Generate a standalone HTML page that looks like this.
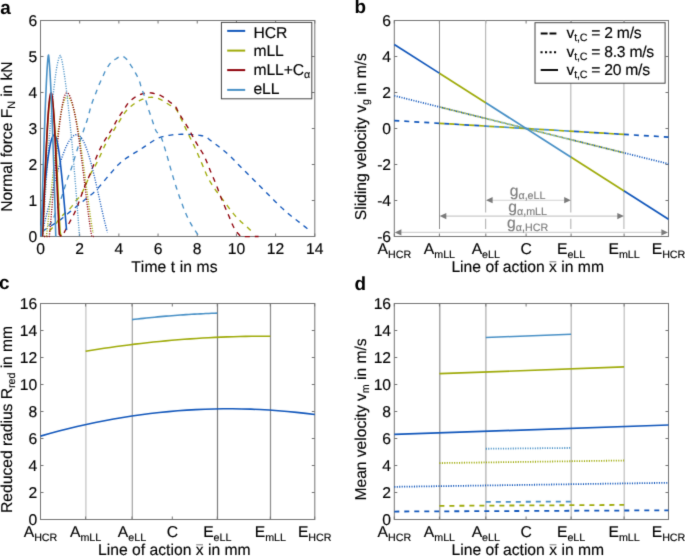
<!DOCTYPE html>
<html><head><meta charset="utf-8"><style>
html,body{margin:0;padding:0;background:#fff;overflow:hidden;}
svg{display:block;}
text{font-family:"Liberation Sans", sans-serif;font-size:15.7px;fill:#000;stroke:#000;stroke-width:0.15px;text-rendering:geometricPrecision;font-kerning:none;}
.g{stroke:#7c7c7c;}
.sub{font-size:10.7px;}
.lab{letter-spacing:0px;}
.g{fill:#7c7c7c;}
</style></head><body>
<svg width="685" height="556" viewBox="0 0 685 556"><defs><filter id="bl" x="0" y="0" width="685" height="556" filterUnits="userSpaceOnUse" color-interpolation-filters="sRGB"><feConvolveMatrix order="3" kernelMatrix="1 7 1 7 49 7 1 7 1" divisor="81" edgeMode="duplicate"/></filter></defs><rect width="685" height="556" fill="#fff"/><g filter="url(#bl)">
<text x="0.2" y="13.8" font-weight="bold" style="font-size:18.9px;stroke-width:0">a</text>
<text x="354.6" y="13.3" font-weight="bold" style="font-size:18.9px;stroke-width:0">b</text>
<text x="-1.1" y="289.2" font-weight="bold" style="font-size:18.9px;stroke-width:0">c</text>
<text x="354.6" y="289.8" font-weight="bold" style="font-size:18.9px;stroke-width:0">d</text>
<rect x="40.5" y="20.5" width="274.3" height="216.0" fill="none" stroke="#747474" stroke-width="1"/><path d="M40.50 236.5v-3.0M40.50 20.5v3.0M79.69 236.5v-3.0M79.69 20.5v3.0M118.87 236.5v-3.0M118.87 20.5v3.0M158.06 236.5v-3.0M158.06 20.5v3.0M197.24 236.5v-3.0M197.24 20.5v3.0M236.43 236.5v-3.0M236.43 20.5v3.0M275.61 236.5v-3.0M275.61 20.5v3.0M314.80 236.5v-3.0M314.80 20.5v3.0M40.5 236.50h3.0M314.8 236.50h-3.0M40.5 200.50h3.0M314.8 200.50h-3.0M40.5 164.50h3.0M314.8 164.50h-3.0M40.5 128.50h3.0M314.8 128.50h-3.0M40.5 92.50h3.0M314.8 92.50h-3.0M40.5 56.50h3.0M314.8 56.50h-3.0M40.5 20.50h3.0M314.8 20.50h-3.0" stroke="#747474" stroke-width="1" fill="none"/>
<text x="37.3" y="242.4" text-anchor="end">0</text><text x="37.3" y="206.4" text-anchor="end">1</text><text x="37.3" y="170.4" text-anchor="end">2</text><text x="37.3" y="134.4" text-anchor="end">3</text><text x="37.3" y="98.4" text-anchor="end">4</text><text x="37.3" y="62.4" text-anchor="end">5</text><text x="37.3" y="26.4" text-anchor="end">6</text>
<text x="40.5" y="254.1" text-anchor="middle">0</text>
<text x="79.7" y="254.1" text-anchor="middle">2</text>
<text x="118.9" y="254.1" text-anchor="middle">4</text>
<text x="158.1" y="254.1" text-anchor="middle">6</text>
<text x="197.2" y="254.1" text-anchor="middle">8</text>
<text x="236.4" y="254.1" text-anchor="middle">10</text>
<text x="275.6" y="254.1" text-anchor="middle">12</text>
<text x="314.8" y="254.1" text-anchor="middle">14</text>
<text class="lab" style="letter-spacing:0.08px" x="174.4" y="271.8" text-anchor="middle">Time t in ms</text>
<text class="lab" style="letter-spacing:-0.05px" transform="translate(11.9,136.6) rotate(-90)" text-anchor="middle">Normal force F<tspan class="sub" dy="3.5">N</tspan><tspan dy="-3.5"> in kN</tspan></text>
<g>
<path d="M42.46 231.10 L43.14 230.69 L44.04 230.14 L45.12 229.49 L46.32 228.76 L47.58 227.99 L48.87 227.20 L50.11 226.43 L51.28 225.70 L52.38 225.01 L53.47 224.33 L54.57 223.65 L55.66 222.96 L56.76 222.25 L57.86 221.51 L58.97 220.75 L60.09 219.94 L61.18 219.12 L62.22 218.29 L63.24 217.46 L64.28 216.59 L65.37 215.66 L66.55 214.67 L67.85 213.58 L69.30 212.38 L70.97 211.02 L72.84 209.50 L74.85 207.87 L76.94 206.17 L79.04 204.46 L81.09 202.79 L83.03 201.22 L84.78 199.78 L86.35 198.51 L87.80 197.36 L89.16 196.30 L90.45 195.28 L91.71 194.26 L92.96 193.20 L94.23 192.05 L95.56 190.78 L96.91 189.39 L98.25 187.92 L99.60 186.38 L100.94 184.80 L102.30 183.17 L103.68 181.52 L105.09 179.85 L106.53 178.18 L108.02 176.45 L109.58 174.62 L111.17 172.74 L112.77 170.85 L114.37 168.99 L115.93 167.23 L117.44 165.59 L118.87 164.14 L120.22 162.87 L121.52 161.74 L122.77 160.74 L123.99 159.82 L125.18 158.97 L126.35 158.17 L127.51 157.38 L128.67 156.58 L129.82 155.80 L130.96 155.07 L132.09 154.38 L133.20 153.72 L134.29 153.08 L135.37 152.45 L136.44 151.82 L137.48 151.18 L138.48 150.55 L139.42 149.95 L140.31 149.37 L141.21 148.80 L142.12 148.20 L143.10 147.57 L144.15 146.89 L145.32 146.14 L146.62 145.29 L148.02 144.33 L149.51 143.30 L151.05 142.25 L152.63 141.21 L154.20 140.23 L155.76 139.34 L157.27 138.58 L158.74 137.95 L160.18 137.42 L161.60 136.95 L163.03 136.56 L164.47 136.21 L165.94 135.90 L167.46 135.61 L169.03 135.34 L170.66 135.09 L172.36 134.88 L174.09 134.70 L175.85 134.55 L177.63 134.44 L179.41 134.35 L181.19 134.29 L182.94 134.26 L184.71 134.26 L186.54 134.29 L188.38 134.35 L190.21 134.44 L192.01 134.55 L193.73 134.68 L195.36 134.83 L196.85 134.98 L198.23 135.14 L199.52 135.32 L200.73 135.51 L201.86 135.72 L202.92 135.95 L203.90 136.20 L204.82 136.48 L205.67 136.78 L206.38 137.09 L206.93 137.39 L207.36 137.70 L207.75 138.04 L208.14 138.43 L208.61 138.87 L209.20 139.40 L209.98 140.02 L210.96 140.75 L212.08 141.59 L213.32 142.51 L214.63 143.48 L215.99 144.50 L217.35 145.54 L218.69 146.57 L219.97 147.58 L221.20 148.57 L222.43 149.56 L223.65 150.55 L224.87 151.56 L226.09 152.59 L227.31 153.65 L228.53 154.73 L229.77 155.86 L231.01 157.04 L232.26 158.26 L233.51 159.52 L234.76 160.81 L236.02 162.11 L237.27 163.40 L238.52 164.68 L239.76 165.94 L240.99 167.17 L242.22 168.39 L243.44 169.60 L244.66 170.80 L245.88 172.00 L247.10 173.21 L248.32 174.43 L249.56 175.66 L250.80 176.90 L252.04 178.15 L253.29 179.41 L254.54 180.68 L255.79 181.94 L257.05 183.21 L258.30 184.48 L259.55 185.74 L260.80 187.00 L262.05 188.27 L263.30 189.54 L264.56 190.80 L265.81 192.07 L267.06 193.33 L268.30 194.58 L269.54 195.82 L270.77 197.06 L272.00 198.29 L273.22 199.52 L274.44 200.75 L275.66 201.96 L276.88 203.17 L278.10 204.36 L279.34 205.54 L280.58 206.71 L281.83 207.87 L283.08 209.03 L284.33 210.18 L285.59 211.30 L286.84 212.41 L288.09 213.49 L289.33 214.54 L290.57 215.56 L291.81 216.54 L293.05 217.50 L294.29 218.43 L295.52 219.35 L296.74 220.27 L297.94 221.18 L299.13 222.10 L300.35 223.07 L301.65 224.09 L302.96 225.14 L304.24 226.17 L305.45 227.14 L306.54 228.01 L307.45 228.75 L308.14 229.30" fill="none" stroke="#1257BB" stroke-width="1.35" stroke-dasharray="5,5" stroke-dashoffset="0" stroke-linejoin="round"/>
<path d="M49.32 231.10 L49.77 230.61 L50.38 229.96 L51.10 229.19 L51.90 228.33 L52.75 227.41 L53.60 226.47 L54.43 225.53 L55.19 224.62 L55.89 223.73 L56.55 222.83 L57.18 221.91 L57.83 220.98 L58.50 220.02 L59.21 219.05 L60.00 218.06 L60.88 217.06 L61.88 216.03 L63.00 214.96 L64.21 213.87 L65.46 212.76 L66.71 211.65 L67.92 210.55 L69.06 209.47 L70.09 208.42 L71.00 207.39 L71.84 206.36 L72.62 205.35 L73.35 204.35 L74.06 203.36 L74.76 202.39 L75.45 201.43 L76.16 200.50 L76.85 199.67 L77.50 198.99 L78.13 198.38 L78.76 197.75 L79.40 197.05 L80.08 196.18 L80.82 195.08 L81.65 193.66 L82.58 191.82 L83.63 189.57 L84.75 187.05 L85.91 184.39 L87.05 181.72 L88.16 179.16 L89.17 176.86 L90.07 174.94 L90.84 173.41 L91.51 172.16 L92.11 171.12 L92.65 170.22 L93.17 169.39 L93.68 168.56 L94.21 167.68 L94.77 166.66 L95.35 165.58 L95.90 164.51 L96.45 163.45 L97.00 162.36 L97.57 161.23 L98.16 160.02 L98.79 158.72 L99.47 157.30 L100.21 155.73 L100.98 154.01 L101.79 152.19 L102.62 150.30 L103.48 148.39 L104.36 146.49 L105.24 144.65 L106.14 142.90 L107.06 141.21 L108.04 139.52 L109.04 137.85 L110.05 136.22 L111.06 134.63 L112.02 133.10 L112.94 131.66 L113.78 130.30 L114.53 129.07 L115.20 127.97 L115.81 126.96 L116.40 126.00 L116.97 125.07 L117.56 124.12 L118.19 123.11 L118.87 122.02 L119.61 120.82 L120.39 119.54 L121.19 118.21 L122.01 116.87 L122.84 115.54 L123.67 114.25 L124.51 113.04 L125.34 111.94 L126.15 110.95 L126.96 110.03 L127.76 109.18 L128.57 108.38 L129.39 107.63 L130.23 106.89 L131.10 106.18 L132.00 105.46 L132.94 104.75 L133.91 104.05 L134.91 103.37 L135.93 102.72 L136.96 102.09 L137.99 101.49 L139.02 100.94 L140.03 100.42 L141.02 99.93 L142.00 99.46 L142.97 99.02 L143.94 98.62 L144.92 98.26 L145.93 97.96 L146.98 97.71 L148.06 97.54 L149.19 97.42 L150.35 97.33 L151.54 97.29 L152.75 97.32 L154.00 97.41 L155.26 97.59 L156.55 97.87 L157.86 98.26 L159.24 98.81 L160.71 99.53 L162.22 100.38 L163.75 101.30 L165.25 102.24 L166.69 103.16 L168.03 104.01 L169.23 104.74 L170.28 105.32 L171.22 105.79 L172.08 106.19 L172.86 106.56 L173.60 106.96 L174.30 107.41 L174.99 107.98 L175.69 108.70 L176.36 109.55 L176.98 110.47 L177.56 111.47 L178.12 112.55 L178.68 113.71 L179.26 114.95 L179.89 116.28 L180.59 117.70 L181.34 119.22 L182.12 120.84 L182.94 122.55 L183.79 124.34 L184.66 126.20 L185.56 128.12 L186.49 130.09 L187.45 132.10 L188.46 134.20 L189.54 136.44 L190.66 138.76 L191.81 141.12 L192.94 143.48 L194.05 145.79 L195.10 148.01 L196.07 150.10 L196.95 152.05 L197.77 153.90 L198.54 155.67 L199.28 157.39 L199.99 159.08 L200.70 160.75 L201.41 162.43 L202.14 164.14 L202.88 165.89 L203.62 167.67 L204.35 169.45 L205.08 171.23 L205.81 172.97 L206.54 174.66 L207.28 176.28 L208.02 177.82 L208.77 179.27 L209.53 180.64 L210.29 181.96 L211.06 183.22 L211.82 184.44 L212.58 185.62 L213.34 186.77 L214.09 187.90 L214.84 188.99 L215.58 190.03 L216.31 191.03 L217.04 192.00 L217.77 192.94 L218.51 193.89 L219.24 194.84 L219.97 195.82 L220.71 196.81 L221.44 197.80 L222.17 198.79 L222.91 199.78 L223.64 200.77 L224.38 201.76 L225.11 202.75 L225.85 203.74 L226.58 204.73 L227.29 205.72 L228.00 206.71 L228.71 207.70 L229.44 208.69 L230.17 209.68 L230.94 210.67 L231.73 211.66 L232.54 212.65 L233.37 213.64 L234.21 214.63 L235.07 215.62 L235.95 216.61 L236.86 217.60 L237.81 218.59 L238.78 219.58 L239.83 220.59 L240.96 221.64 L242.15 222.71 L243.35 223.77 L244.53 224.79 L245.65 225.77 L246.69 226.68 L247.60 227.50 L248.40 228.24 L249.13 228.93 L249.80 229.57 L250.40 230.16 L250.93 230.67 L251.39 231.13 L251.78 231.51 L252.10 231.82" fill="none" stroke="#9FAB0A" stroke-width="1.35" stroke-dasharray="5,5" stroke-dashoffset="0" stroke-linejoin="round"/>
<path d="M64.01 232.90 L64.49 231.99 L65.13 230.77 L65.90 229.31 L66.75 227.70 L67.64 226.02 L68.52 224.35 L69.35 222.78 L70.09 221.38 L70.75 220.14 L71.38 218.96 L71.99 217.84 L72.58 216.74 L73.16 215.67 L73.71 214.60 L74.26 213.50 L74.79 212.38 L75.28 211.29 L75.71 210.28 L76.11 209.31 L76.50 208.31 L76.91 207.23 L77.37 206.03 L77.89 204.64 L78.51 203.02 L79.25 201.07 L80.10 198.80 L81.02 196.31 L81.99 193.71 L82.96 191.10 L83.90 188.59 L84.78 186.29 L85.56 184.30 L86.26 182.61 L86.90 181.13 L87.50 179.81 L88.06 178.61 L88.59 177.49 L89.10 176.41 L89.59 175.33 L90.07 174.22 L90.52 173.11 L90.93 172.07 L91.31 171.08 L91.67 170.10 L92.03 169.12 L92.40 168.12 L92.78 167.07 L93.20 165.94 L93.64 164.75 L94.08 163.53 L94.52 162.28 L94.98 160.99 L95.46 159.67 L95.97 158.31 L96.53 156.92 L97.12 155.50 L97.76 154.03 L98.44 152.52 L99.14 150.96 L99.88 149.38 L100.65 147.77 L101.46 146.15 L102.31 144.52 L103.20 142.90 L104.16 141.25 L105.20 139.54 L106.30 137.82 L107.43 136.08 L108.56 134.37 L109.65 132.70 L110.68 131.09 L111.62 129.58 L112.46 128.16 L113.22 126.82 L113.92 125.55 L114.59 124.31 L115.24 123.11 L115.89 121.92 L116.58 120.72 L117.30 119.50 L118.09 118.25 L118.90 116.99 L119.74 115.72 L120.59 114.46 L121.43 113.22 L122.25 112.02 L123.03 110.87 L123.77 109.78 L124.45 108.75 L125.07 107.76 L125.65 106.82 L126.22 105.91 L126.79 105.04 L127.37 104.19 L127.99 103.38 L128.67 102.58 L129.39 101.81 L130.14 101.06 L130.91 100.34 L131.70 99.66 L132.53 98.99 L133.37 98.36 L134.24 97.76 L135.13 97.18 L136.07 96.62 L137.05 96.09 L138.06 95.57 L139.09 95.09 L140.13 94.64 L141.16 94.24 L142.18 93.88 L143.17 93.58 L144.11 93.33 L145.00 93.11 L145.87 92.94 L146.74 92.81 L147.63 92.74 L148.56 92.72 L149.54 92.76 L150.61 92.86 L151.78 93.03 L153.05 93.26 L154.39 93.55 L155.75 93.89 L157.13 94.29 L158.48 94.73 L159.78 95.22 L161.00 95.74 L162.14 96.32 L163.25 96.99 L164.32 97.70 L165.36 98.46 L166.36 99.24 L167.34 100.02 L168.30 100.78 L169.23 101.50 L170.14 102.19 L171.04 102.86 L171.93 103.52 L172.78 104.18 L173.59 104.84 L174.35 105.51 L175.05 106.19 L175.69 106.90 L176.20 107.57 L176.57 108.19 L176.85 108.78 L177.10 109.40 L177.37 110.09 L177.71 110.89 L178.18 111.85 L178.83 113.02 L179.70 114.45 L180.75 116.14 L181.93 118.00 L183.18 119.97 L184.46 121.97 L185.70 123.93 L186.84 125.77 L187.84 127.42 L188.70 128.89 L189.47 130.27 L190.17 131.56 L190.83 132.80 L191.45 133.99 L192.06 135.16 L192.68 136.32 L193.32 137.50 L193.98 138.67 L194.61 139.82 L195.24 140.94 L195.86 142.05 L196.48 143.15 L197.11 144.25 L197.76 145.37 L198.42 146.50 L199.10 147.62 L199.79 148.71 L200.50 149.78 L201.21 150.87 L201.93 151.99 L202.65 153.18 L203.38 154.46 L204.10 155.86 L204.83 157.39 L205.56 159.04 L206.29 160.78 L207.03 162.59 L207.77 164.43 L208.50 166.28 L209.24 168.11 L209.98 169.90 L210.71 171.64 L211.44 173.37 L212.17 175.09 L212.90 176.81 L213.64 178.54 L214.37 180.30 L215.11 182.10 L215.86 183.94 L216.61 185.85 L217.37 187.82 L218.13 189.84 L218.89 191.88 L219.66 193.92 L220.42 195.93 L221.18 197.89 L221.93 199.78 L222.67 201.59 L223.41 203.34 L224.14 205.05 L224.87 206.73 L225.60 208.40 L226.33 210.07 L227.06 211.75 L227.81 213.46 L228.56 215.24 L229.32 217.09 L230.08 218.97 L230.84 220.84 L231.61 222.67 L232.37 224.41 L233.13 226.04 L233.88 227.50 L234.65 228.83 L235.44 230.07 L236.25 231.22 L237.04 232.27 L237.81 233.22 L238.53 234.06 L239.19 234.80 L239.76 235.42 L240.14 235.89 L240.31 236.20 L240.36 236.37 L240.38 236.45 L240.49 236.47 L240.78 236.47 L241.35 236.46 L242.31 236.50 L243.79 236.55 L245.79 236.58 L248.11 236.58 L250.60 236.57 L253.06 236.55 L255.32 236.53 L257.22 236.51 L258.57 236.50" fill="none" stroke="#8E000A" stroke-width="1.35" stroke-dasharray="5,5" stroke-dashoffset="0" stroke-linejoin="round"/>
<path d="M41.48 232.90 L42.23 232.16 L43.27 231.20 L44.50 230.06 L45.85 228.78 L47.25 227.41 L48.60 225.99 L49.84 224.56 L50.88 223.18 L51.74 221.82 L52.49 220.42 L53.16 218.99 L53.77 217.53 L54.36 216.03 L54.93 214.50 L55.53 212.92 L56.17 211.30 L56.85 209.64 L57.54 207.93 L58.23 206.18 L58.92 204.39 L59.61 202.57 L60.30 200.71 L60.98 198.82 L61.66 196.90 L62.34 194.90 L63.01 192.81 L63.69 190.66 L64.37 188.48 L65.03 186.33 L65.69 184.23 L66.33 182.22 L66.95 180.34 L67.55 178.62 L68.13 177.03 L68.70 175.53 L69.25 174.09 L69.80 172.66 L70.35 171.21 L70.90 169.70 L71.46 168.10 L72.03 166.38 L72.60 164.58 L73.18 162.73 L73.76 160.86 L74.33 158.98 L74.89 157.15 L75.44 155.38 L75.96 153.70 L76.46 152.13 L76.94 150.65 L77.39 149.23 L77.84 147.85 L78.28 146.48 L78.73 145.09 L79.20 143.67 L79.69 142.18 L80.20 140.61 L80.74 138.97 L81.30 137.28 L81.87 135.59 L82.43 133.91 L82.97 132.27 L83.50 130.69 L84.00 129.22 L84.45 127.88 L84.88 126.68 L85.28 125.56 L85.67 124.47 L86.06 123.37 L86.46 122.21 L86.88 120.93 L87.33 119.50 L87.80 117.88 L88.28 116.12 L88.78 114.26 L89.29 112.32 L89.81 110.36 L90.34 108.42 L90.88 106.53 L91.44 104.74 L92.03 103.00 L92.65 101.26 L93.30 99.53 L93.95 97.83 L94.60 96.19 L95.22 94.62 L95.81 93.15 L96.34 91.78 L96.81 90.54 L97.24 89.43 L97.64 88.41 L98.01 87.46 L98.36 86.56 L98.72 85.67 L99.09 84.78 L99.47 83.86 L99.88 82.92 L100.30 82.00 L100.72 81.09 L101.14 80.19 L101.56 79.30 L101.98 78.42 L102.40 77.54 L102.81 76.66 L103.19 75.79 L103.56 74.93 L103.92 74.08 L104.27 73.24 L104.64 72.40 L105.04 71.55 L105.47 70.69 L105.94 69.82 L106.47 68.91 L107.04 67.96 L107.65 66.99 L108.28 66.02 L108.92 65.07 L109.57 64.18 L110.21 63.35 L110.84 62.62 L111.45 61.99 L112.04 61.45 L112.64 60.97 L113.24 60.55 L113.84 60.16 L114.46 59.78 L115.09 59.41 L115.74 59.02 L116.42 58.59 L117.12 58.12 L117.85 57.65 L118.59 57.20 L119.33 56.79 L120.05 56.46 L120.75 56.24 L121.42 56.14 L122.06 56.17 L122.68 56.31 L123.28 56.55 L123.87 56.86 L124.44 57.24 L125.01 57.68 L125.57 58.15 L126.12 58.66 L126.66 59.21 L127.17 59.82 L127.67 60.49 L128.17 61.20 L128.66 61.96 L129.17 62.75 L129.69 63.57 L130.24 64.42 L130.82 65.30 L131.42 66.24 L132.05 67.22 L132.68 68.22 L133.32 69.25 L133.95 70.28 L134.55 71.32 L135.13 72.34 L135.70 73.36 L136.26 74.39 L136.81 75.43 L137.35 76.48 L137.87 77.53 L138.36 78.57 L138.82 79.60 L139.25 80.62 L139.62 81.62 L139.94 82.62 L140.22 83.60 L140.48 84.58 L140.74 85.56 L141.00 86.54 L141.28 87.54 L141.60 88.54 L141.95 89.54 L142.32 90.52 L142.71 91.49 L143.11 92.48 L143.51 93.49 L143.92 94.54 L144.33 95.64 L144.73 96.82 L145.14 98.09 L145.55 99.44 L145.97 100.86 L146.39 102.31 L146.81 103.77 L147.23 105.22 L147.65 106.63 L148.06 107.98 L148.48 109.25 L148.88 110.47 L149.29 111.65 L149.69 112.82 L150.10 113.99 L150.52 115.18 L150.95 116.41 L151.40 117.70 L151.87 119.10 L152.36 120.62 L152.87 122.20 L153.39 123.80 L153.90 125.35 L154.40 126.80 L154.88 128.11 L155.31 129.22 L155.71 130.11 L156.08 130.82 L156.42 131.40 L156.75 131.88 L157.07 132.29 L157.39 132.68 L157.71 133.08 L158.06 133.54 L158.42 134.01 L158.80 134.44 L159.18 134.85 L159.56 135.25 L159.94 135.66 L160.31 136.11 L160.66 136.59 L161.00 137.14 L161.29 137.71 L161.55 138.26 L161.78 138.83 L162.01 139.44 L162.25 140.12 L162.51 140.90 L162.80 141.82 L163.15 142.90 L163.56 144.17 L164.01 145.61 L164.49 147.19 L165.00 148.86 L165.52 150.60 L166.05 152.38 L166.57 154.14 L167.07 155.86 L167.56 157.57 L168.04 159.30 L168.53 161.06 L169.02 162.83 L169.50 164.61 L170.00 166.39 L170.49 168.15 L170.99 169.90 L171.49 171.64 L172.01 173.39 L172.53 175.14 L173.05 176.88 L173.57 178.60 L174.08 180.29 L174.60 181.96 L175.10 183.58 L175.58 185.11 L176.04 186.55 L176.47 187.93 L176.92 189.30 L177.37 190.69 L177.87 192.15 L178.41 193.73 L179.02 195.46 L179.71 197.40 L180.47 199.53 L181.29 201.78 L182.13 204.10 L182.99 206.42 L183.85 208.67 L184.69 210.80 L185.49 212.74 L186.25 214.50 L187.00 216.16 L187.73 217.72 L188.46 219.20 L189.19 220.61 L189.91 221.98 L190.63 223.31 L191.37 224.62 L192.12 225.92 L192.92 227.22 L193.72 228.47 L194.52 229.68 L195.30 230.82 L196.02 231.87 L196.68 232.81 L197.24 233.62 L197.72 234.29 L198.13 234.84 L198.49 235.27 L198.79 235.62 L199.04 235.90 L199.25 236.13 L199.44 236.32 L199.59 236.50" fill="none" stroke="#4890C6" stroke-width="1.35" stroke-dasharray="5,5" stroke-dashoffset="0" stroke-linejoin="round"/>
<path d="M40.89 235.56 L42.56 230.19 L44.22 224.06 L45.89 217.57 L47.55 210.89 L49.22 204.14 L50.88 197.39 L52.55 190.72 L54.22 184.20 L55.88 177.89 L57.55 171.85 L59.21 166.13 L60.88 160.77 L62.54 155.81 L64.21 151.31 L65.87 147.28 L67.54 143.77 L69.20 140.80 L70.87 138.39 L72.53 136.56 L74.20 135.33 L75.87 134.71 L77.53 134.71 L79.20 135.52 L80.86 137.15 L82.53 139.58 L84.19 142.79 L85.86 146.74 L87.52 151.39 L89.19 156.67 L90.85 162.52 L92.52 168.88 L94.18 175.66 L95.85 182.78 L97.52 190.14 L99.18 197.65 L100.85 205.17 L102.51 212.60 L104.18 219.76 L105.84 226.48 L107.51 232.43" fill="none" stroke="#1257BB" stroke-width="1.35" stroke-dasharray="1.1,1.35" stroke-dashoffset="0" stroke-linejoin="round"/>
<path d="M46.38 236.50 L47.54 226.85 L48.71 215.91 L49.88 204.57 L51.04 193.12 L52.21 181.76 L53.37 170.66 L54.54 159.96 L55.70 149.78 L56.87 140.24 L58.04 131.45 L59.20 123.49 L60.37 116.45 L61.53 110.40 L62.70 105.41 L63.86 101.52 L65.03 98.78 L66.20 97.22 L67.36 96.83 L68.53 97.38 L69.69 98.70 L70.86 100.81 L72.02 103.68 L73.19 107.28 L74.36 111.60 L75.52 116.59 L76.69 122.23 L77.85 128.46 L79.02 135.24 L80.19 142.51 L81.35 150.21 L82.52 158.28 L83.68 166.65 L84.85 175.24 L86.01 183.97 L87.18 192.76 L88.35 201.50 L89.51 210.07 L90.68 218.35 L91.84 226.11 L93.01 233.01" fill="none" stroke="#9FAB0A" stroke-width="1.35" stroke-dasharray="1.1,1.35" stroke-dashoffset="0" stroke-linejoin="round"/>
<path d="M44.03 236.50 L49.32 236.50 L50.38 225.64 L51.44 213.34 L52.51 200.63 L53.57 187.85 L54.63 175.27 L55.69 163.06 L56.76 151.42 L57.82 140.50 L58.88 130.45 L59.95 121.38 L61.01 113.41 L62.07 106.65 L63.13 101.16 L64.20 97.03 L65.26 94.29 L66.32 92.98 L67.39 92.99 L68.45 93.83 L69.51 95.42 L70.58 97.76 L71.64 100.82 L72.70 104.60 L73.76 109.05 L74.83 114.15 L75.89 119.86 L76.95 126.13 L78.02 132.94 L79.08 140.21 L80.14 147.89 L81.20 155.93 L82.27 164.26 L83.33 172.81 L84.39 181.50 L85.46 190.25 L86.52 198.97 L87.58 207.56 L88.64 215.88 L89.71 223.77 L90.77 230.94 L91.83 236.50 L93.79 236.50" fill="none" stroke="#8E000A" stroke-width="1.35" stroke-dasharray="1.1,1.35" stroke-dashoffset="0" stroke-linejoin="round"/>
<path d="M42.85 236.50 L43.77 220.63 L44.68 205.36 L45.60 190.71 L46.52 176.68 L47.43 163.30 L48.35 150.56 L49.26 138.49 L50.18 127.10 L51.09 116.42 L52.01 106.45 L52.93 97.23 L53.84 88.77 L54.76 81.12 L55.67 74.31 L56.59 68.39 L57.51 63.41 L58.42 59.47 L59.34 56.71 L60.25 55.42 L61.17 57.50 L62.09 61.26 L63.00 66.03 L63.92 71.59 L64.83 77.84 L65.75 84.67 L66.67 92.05 L67.58 99.91 L68.50 108.24 L69.41 117.00 L70.33 126.16 L71.25 135.70 L72.16 145.61 L73.08 155.88 L73.99 166.47 L74.91 177.40 L75.83 188.63 L76.74 200.17 L77.66 212.00 L78.57 224.11 L79.49 236.50" fill="none" stroke="#4890C6" stroke-width="1.35" stroke-dasharray="1.1,1.35" stroke-dashoffset="0" stroke-linejoin="round"/>
<path d="M41.09 225.45 L41.72 218.33 L42.36 211.30 L43.00 204.39 L43.63 197.65 L44.27 191.10 L44.91 184.78 L45.55 178.72 L46.18 172.96 L46.82 167.51 L47.46 162.40 L48.09 157.67 L48.73 153.34 L49.37 149.42 L50.00 145.94 L50.64 142.92 L51.28 140.37 L51.91 138.30 L52.55 136.72 L53.19 135.65 L53.82 135.08 L54.46 135.03 L55.10 135.59 L55.73 136.79 L56.37 138.61 L57.01 141.04 L57.64 144.07 L58.28 147.68 L58.92 151.83 L59.55 156.51 L60.19 161.67 L60.83 167.28 L61.46 173.31 L62.10 179.70 L62.74 186.41 L63.37 193.39 L64.01 200.59 L64.65 207.94 L65.28 215.38 L65.92 222.82 L66.56 230.15" fill="none" stroke="#1257BB" stroke-width="1.6" stroke-linejoin="round"/>
<path d="M42.46 236.50 L42.90 227.75 L43.34 217.80 L43.78 207.47 L44.22 196.99 L44.66 186.54 L45.10 176.24 L45.55 166.21 L45.99 156.56 L46.43 147.37 L46.87 138.74 L47.31 130.73 L47.75 123.42 L48.19 116.87 L48.63 111.15 L49.07 106.29 L49.51 102.34 L49.95 99.34 L50.39 97.30 L50.84 96.25 L51.28 96.19 L51.72 97.09 L52.16 98.93 L52.60 101.69 L53.04 105.35 L53.48 109.87 L53.92 115.21 L54.36 121.32 L54.80 128.14 L55.24 135.59 L55.68 143.61 L56.13 152.11 L56.57 161.00 L57.01 170.19 L57.45 179.56 L57.89 189.01 L58.33 198.40 L58.77 207.59 L59.21 216.41 L59.65 224.62 L60.09 231.86 L61.07 236.50" fill="none" stroke="#9FAB0A" stroke-width="1.6" stroke-linejoin="round"/>
<path d="M42.46 236.50 L42.88 227.98 L43.30 218.30 L43.72 208.22 L44.14 197.99 L44.57 187.75 L44.99 177.64 L45.41 167.75 L45.83 158.18 L46.25 149.01 L46.67 140.33 L47.09 132.21 L47.51 124.70 L47.94 117.88 L48.36 111.80 L48.78 106.50 L49.20 102.02 L49.62 98.41 L50.04 95.68 L50.46 93.86 L50.88 92.96 L51.31 93.02 L51.73 94.16 L52.15 96.40 L52.57 99.70 L52.99 104.04 L53.41 109.36 L53.83 115.61 L54.25 122.71 L54.68 130.60 L55.10 139.17 L55.52 148.33 L55.94 157.96 L56.36 167.96 L56.78 178.18 L57.20 188.49 L57.62 198.72 L58.05 208.70 L58.47 218.20 L58.89 226.90 L59.31 234.21 L61.27 236.50" fill="none" stroke="#8E000A" stroke-width="1.6" stroke-linejoin="round"/>
<path d="M41.28 236.50 L41.65 222.85 L42.01 209.57 L42.37 196.65 L42.73 184.12 L43.10 171.97 L43.46 160.24 L43.82 148.92 L44.18 138.04 L44.55 127.61 L44.91 117.66 L45.27 108.21 L45.63 99.28 L46.00 90.92 L46.36 83.15 L46.72 76.04 L47.08 69.64 L47.45 64.06 L47.81 59.42 L48.17 55.99 L48.53 54.98 L48.90 57.55 L49.26 61.51 L49.62 66.48 L49.98 72.28 L50.35 78.80 L50.71 85.98 L51.07 93.75 L51.43 102.08 L51.80 110.93 L52.16 120.27 L52.52 130.07 L52.88 140.32 L53.25 151.00 L53.61 162.09 L53.97 173.57 L54.33 185.44 L54.70 197.67 L55.06 210.27 L55.42 223.21 L55.78 236.50" fill="none" stroke="#4890C6" stroke-width="1.6" stroke-linejoin="round"/>
</g>
<rect x="221.4" y="22.4" width="90.4" height="76.4" fill="#fff" stroke="#444" stroke-width="1"/>
<line x1="227.2" y1="30.9" x2="245.2" y2="30.9" stroke="#1257BB" stroke-width="2"/>
<text x="253.5" y="37.5" style="letter-spacing:-0.12px">HCR</text>
<line x1="227.2" y1="50.6" x2="245.2" y2="50.6" stroke="#9FAB0A" stroke-width="2"/>
<text x="253.5" y="56.2" style="letter-spacing:-0.12px">mLL</text>
<line x1="227.2" y1="70.1" x2="245.2" y2="70.1" stroke="#8E000A" stroke-width="2"/>
<text x="253.5" y="75.0" style="letter-spacing:-0.12px">mLL+C<tspan class="sub" dy="3.3">α</tspan></text>
<line x1="227.2" y1="89.9" x2="245.2" y2="89.9" stroke="#4890C6" stroke-width="2"/>
<text x="253.5" y="93.6" style="letter-spacing:-0.12px">eLL</text>
<rect x="394.3" y="20.5" width="274.2" height="216.0" fill="none" stroke="#747474" stroke-width="1"/><path d="M394.30 236.5v-3.0M394.30 20.5v3.0M439.40 236.5v-3.0M439.40 20.5v3.0M485.80 236.5v-3.0M485.80 20.5v3.0M526.10 236.5v-3.0M526.10 20.5v3.0M571.10 236.5v-3.0M571.10 20.5v3.0M624.10 236.5v-3.0M624.10 20.5v3.0M668.50 236.5v-3.0M668.50 20.5v3.0M394.3 236.50h3.0M668.5 236.50h-3.0M394.3 200.50h3.0M668.5 200.50h-3.0M394.3 164.50h3.0M668.5 164.50h-3.0M394.3 128.50h3.0M668.5 128.50h-3.0M394.3 92.50h3.0M668.5 92.50h-3.0M394.3 56.50h3.0M668.5 56.50h-3.0M394.3 20.50h3.0M668.5 20.50h-3.0" stroke="#747474" stroke-width="1" fill="none"/>
<text x="391.1" y="242.4" text-anchor="end">-6</text><text x="391.1" y="206.4" text-anchor="end">-4</text><text x="391.1" y="170.4" text-anchor="end">-2</text><text x="391.1" y="134.4" text-anchor="end">0</text><text x="391.1" y="98.4" text-anchor="end">2</text><text x="391.1" y="62.4" text-anchor="end">4</text><text x="391.1" y="26.4" text-anchor="end">6</text>
<text x="394.3" y="254.3" text-anchor="middle">A<tspan class="sub" dy="3.5">HCR</tspan></text><text x="439.4" y="254.3" text-anchor="middle">A<tspan class="sub" dy="3.5">mLL</tspan></text><text x="485.8" y="254.3" text-anchor="middle">A<tspan class="sub" dy="3.5">eLL</tspan></text><text x="526.1" y="254.3" text-anchor="middle">C</text><text x="571.1" y="254.3" text-anchor="middle">E<tspan class="sub" dy="3.5">eLL</tspan></text><text x="624.1" y="254.3" text-anchor="middle">E<tspan class="sub" dy="3.5">mLL</tspan></text><text x="668.5" y="254.3" text-anchor="middle">E<tspan class="sub" dy="3.5">HCR</tspan></text>
<text class="lab" x="527.7" y="272" text-anchor="middle">Line of action <tspan class="xb">x</tspan> in mm</text>
<line x1="549.5" y1="261.8" x2="556.3" y2="261.8" stroke="#7a7a7a" stroke-width="1"/>
<text class="lab" style="letter-spacing:-0.04px" transform="translate(365.5,136.7) rotate(-90)" text-anchor="middle">Sliding velocity v<tspan class="sub" dy="3.5">g</tspan><tspan dy="-3.5"> in m/s</tspan></text>
<line x1="439.50" y1="20.50" x2="439.50" y2="229.00" stroke="#8e8e8e" stroke-width="1"/>
<line x1="485.60" y1="20.50" x2="485.60" y2="212.40" stroke="#b8b8b8" stroke-width="1.2"/>
<line x1="485.60" y1="218.80" x2="485.60" y2="229.00" stroke="#b8b8b8" stroke-width="1.2"/>
<line x1="570.80" y1="20.50" x2="570.80" y2="212.40" stroke="#b8b8b8" stroke-width="1.2"/>
<line x1="570.80" y1="218.80" x2="570.80" y2="229.00" stroke="#b8b8b8" stroke-width="1.2"/>
<line x1="623.90" y1="20.50" x2="623.90" y2="229.00" stroke="#bcbcbc" stroke-width="1.2"/>
<line x1="489.00" y1="200.2" x2="567.80" y2="200.2" stroke="#d2d2d2" stroke-width="1.1"/><path d="M486.00 200.2L492.60 197.10L492.60 203.30Z" fill="#7a7a7a"/><path d="M570.80 200.2L564.20 197.10L564.20 203.30Z" fill="#7a7a7a"/>
<line x1="442.70" y1="216.1" x2="620.90" y2="216.1" stroke="#cacaca" stroke-width="1.4"/><path d="M439.70 216.1L446.30 213.00L446.30 219.20Z" fill="#7a7a7a"/><path d="M623.90 216.1L617.30 213.00L617.30 219.20Z" fill="#7a7a7a"/>
<line x1="397.80" y1="232.4" x2="665.00" y2="232.4" stroke="#d0d0d0" stroke-width="1.1"/><path d="M394.80 232.4L401.40 229.30L401.40 235.50Z" fill="#7a7a7a"/><path d="M668.00 232.4L661.40 229.30L661.40 235.50Z" fill="#7a7a7a"/>
<text class="g" x="527.6" y="195.6" text-anchor="middle">g<tspan class="sub" dy="3.2">α,eLL</tspan></text>
<text class="g" x="527.6" y="212.0" text-anchor="middle">g<tspan class="sub" dy="3.2">α,mLL</tspan></text>
<text class="g" x="527.6" y="227.9" text-anchor="middle">g<tspan class="sub" dy="3.2">α,HCR</tspan></text>
<line x1="394.30" y1="120.58" x2="485.80" y2="126.08" stroke="#1257BB" stroke-width="1.7" stroke-dasharray="5,5" stroke-dashoffset="0.00"/>
<line x1="571.10" y1="131.20" x2="668.50" y2="137.06" stroke="#1257BB" stroke-width="1.7" stroke-dasharray="5,5" stroke-dashoffset="177.12"/>
<line x1="439.40" y1="123.29" x2="624.10" y2="134.39" stroke="#9FAB0A" stroke-width="1.7" stroke-dasharray="5,5" stroke-dashoffset="50.18"/>
<line x1="485.80" y1="126.08" x2="571.10" y2="131.20" stroke="#4890C6" stroke-width="1.7" stroke-dasharray="5,5" stroke-dashoffset="91.67"/>
<line x1="394.30" y1="95.74" x2="485.80" y2="118.48" stroke="#1257BB" stroke-width="1.7" stroke-dasharray="1.1,1.35" stroke-dashoffset="0.00"/>
<line x1="571.10" y1="139.69" x2="668.50" y2="163.89" stroke="#1257BB" stroke-width="1.7" stroke-dasharray="1.1,1.35" stroke-dashoffset="182.18"/>
<line x1="439.40" y1="106.95" x2="624.10" y2="152.86" stroke="#9FAB0A" stroke-width="1.7" stroke-dasharray="1.1,1.35" stroke-dashoffset="47.70"/>
<line x1="485.80" y1="118.48" x2="571.10" y2="139.69" stroke="#4890C6" stroke-width="1.7" stroke-dasharray="1.1,1.35" stroke-dashoffset="94.28"/>
<line x1="394.30" y1="44.44" x2="439.70" y2="73.40" stroke="#1257BB" stroke-width="1.7"/>
<line x1="623.80" y1="190.81" x2="668.50" y2="219.32" stroke="#1257BB" stroke-width="1.7"/>
<line x1="439.40" y1="73.20" x2="486.10" y2="102.99" stroke="#9FAB0A" stroke-width="1.7"/>
<line x1="570.80" y1="157.01" x2="624.10" y2="191.00" stroke="#9FAB0A" stroke-width="1.7"/>
<line x1="485.80" y1="102.80" x2="571.10" y2="157.20" stroke="#4890C6" stroke-width="1.7"/>
<rect x="535" y="22.7" width="130.1" height="60.5" fill="#fff" stroke="#444" stroke-width="1"/>
<line x1="540.7" y1="33.5" x2="556.4" y2="33.5" stroke="#000" stroke-width="1.9" stroke-dasharray="6.9,1.9"/>
<line x1="540.5" y1="52.2" x2="556.2" y2="52.2" stroke="#000" stroke-width="2.1" stroke-dasharray="2.1,2.4"/>
<line x1="540.7" y1="70" x2="558" y2="70" stroke="#000" stroke-width="1.9"/>
<text x="566.6" y="38.4" style="letter-spacing:-0.25px">v<tspan class="sub" dy="3">t,C</tspan><tspan dy="-3"> = 2 m/s</tspan></text>
<text x="566.6" y="56.8" style="letter-spacing:-0.25px">v<tspan class="sub" dy="3">t,C</tspan><tspan dy="-3"> = 8.3 m/s</tspan></text>
<text x="566.6" y="75.1" style="letter-spacing:-0.25px">v<tspan class="sub" dy="3">t,C</tspan><tspan dy="-3"> = 20 m/s</tspan></text>
<line x1="85.90" y1="303.50" x2="85.90" y2="519.50" stroke="#c0c0c0" stroke-width="1.2"/>
<line x1="132.30" y1="303.50" x2="132.30" y2="519.50" stroke="#a2a2a2" stroke-width="1.2"/>
<line x1="217.50" y1="303.50" x2="217.50" y2="519.50" stroke="#7c7c7c" stroke-width="1.2"/>
<line x1="270.50" y1="303.50" x2="270.50" y2="519.50" stroke="#8c8c8c" stroke-width="1.2"/>
<rect x="40.5" y="303.5" width="274.3" height="216.0" fill="none" stroke="#747474" stroke-width="1"/><path d="M40.50 519.5v-3.0M40.50 303.5v3.0M85.60 519.5v-3.0M85.60 303.5v3.0M132.00 519.5v-3.0M132.00 303.5v3.0M172.30 519.5v-3.0M172.30 303.5v3.0M217.30 519.5v-3.0M217.30 303.5v3.0M270.30 519.5v-3.0M270.30 303.5v3.0M314.70 519.5v-3.0M314.70 303.5v3.0M40.5 519.50h3.0M314.8 519.50h-3.0M40.5 492.50h3.0M314.8 492.50h-3.0M40.5 465.50h3.0M314.8 465.50h-3.0M40.5 438.50h3.0M314.8 438.50h-3.0M40.5 411.50h3.0M314.8 411.50h-3.0M40.5 384.50h3.0M314.8 384.50h-3.0M40.5 357.50h3.0M314.8 357.50h-3.0M40.5 330.50h3.0M314.8 330.50h-3.0M40.5 303.50h3.0M314.8 303.50h-3.0" stroke="#747474" stroke-width="1" fill="none"/>
<text x="37.3" y="525.4" text-anchor="end">0</text><text x="37.3" y="498.4" text-anchor="end">2</text><text x="37.3" y="471.4" text-anchor="end">4</text><text x="37.3" y="444.4" text-anchor="end">6</text><text x="37.3" y="417.4" text-anchor="end">8</text><text x="37.3" y="390.4" text-anchor="end">10</text><text x="37.3" y="363.4" text-anchor="end">12</text><text x="37.3" y="336.4" text-anchor="end">14</text><text x="37.3" y="309.4" text-anchor="end">16</text>
<text x="40.5" y="537.3" text-anchor="middle">A<tspan class="sub" dy="3.5">HCR</tspan></text><text x="85.6" y="537.3" text-anchor="middle">A<tspan class="sub" dy="3.5">mLL</tspan></text><text x="132.0" y="537.3" text-anchor="middle">A<tspan class="sub" dy="3.5">eLL</tspan></text><text x="172.3" y="537.3" text-anchor="middle">C</text><text x="217.3" y="537.3" text-anchor="middle">E<tspan class="sub" dy="3.5">eLL</tspan></text><text x="270.3" y="537.3" text-anchor="middle">E<tspan class="sub" dy="3.5">mLL</tspan></text><text x="314.7" y="537.3" text-anchor="middle">E<tspan class="sub" dy="3.5">HCR</tspan></text>
<text class="lab" x="174.4" y="555" text-anchor="middle">Line of action <tspan class="xb">x</tspan> in mm</text>
<line x1="196.2" y1="544.8" x2="203.0" y2="544.8" stroke="#7a7a7a" stroke-width="1"/>
<text class="lab" style="letter-spacing:-0.04px" transform="translate(11.9,419.4) rotate(-90)" text-anchor="middle">Reduced radius R<tspan class="sub" dy="3.5">red</tspan><tspan dy="-3.5"> in mm</tspan></text>
<path d="M40.50 436.13 L49.64 433.54 L58.79 431.08 L67.93 428.74 L77.07 426.54 L86.22 424.47 L95.36 422.52 L104.50 420.70 L113.65 419.01 L122.79 417.46 L131.93 416.02 L141.08 414.72 L150.22 413.55 L159.36 412.51 L168.51 411.59 L177.65 410.81 L186.79 410.15 L195.94 409.63 L205.08 409.23 L214.22 408.96 L223.37 408.82 L232.51 408.81 L241.65 408.93 L250.80 409.17 L259.94 409.55 L269.08 410.05 L278.23 410.69 L287.37 411.45 L296.51 412.34 L305.66 413.36 L314.80 414.51" fill="none" stroke="#1257BB" stroke-width="1.6"/>
<path d="M85.60 351.24 L91.76 350.23 L97.91 349.26 L104.07 348.32 L110.23 347.42 L116.38 346.55 L122.54 345.71 L128.70 344.92 L134.85 344.15 L141.01 343.42 L147.17 342.73 L153.32 342.07 L159.48 341.45 L165.64 340.86 L171.79 340.31 L177.95 339.79 L184.11 339.31 L190.26 338.86 L196.42 338.45 L202.58 338.07 L208.73 337.73 L214.89 337.42 L221.05 337.15 L227.20 336.91 L233.36 336.71 L239.52 336.55 L245.67 336.42 L251.83 336.32 L257.99 336.26 L264.14 336.23 L270.30 336.24" fill="none" stroke="#9FAB0A" stroke-width="1.6"/>
<path d="M132.00 319.60 L134.84 319.27 L137.69 318.95 L140.53 318.64 L143.37 318.33 L146.22 318.04 L149.06 317.75 L151.90 317.46 L154.75 317.19 L157.59 316.92 L160.43 316.66 L163.28 316.41 L166.12 316.17 L168.96 315.93 L171.81 315.70 L174.65 315.48 L177.49 315.27 L180.34 315.06 L183.18 314.86 L186.02 314.67 L188.87 314.49 L191.71 314.32 L194.55 314.15 L197.40 313.99 L200.24 313.84 L203.08 313.69 L205.93 313.56 L208.77 313.43 L211.61 313.30 L214.46 313.19 L217.30 313.09" fill="none" stroke="#4890C6" stroke-width="1.6"/>
<line x1="439.80" y1="303.50" x2="439.80" y2="519.50" stroke="#929292" stroke-width="1.2"/>
<line x1="485.90" y1="303.50" x2="485.90" y2="519.50" stroke="#acacac" stroke-width="1.2"/>
<line x1="571.20" y1="303.50" x2="571.20" y2="519.50" stroke="#b2b2b2" stroke-width="1.2"/>
<line x1="624.20" y1="303.50" x2="624.20" y2="519.50" stroke="#bebebe" stroke-width="1.2"/>
<rect x="394.3" y="303.5" width="274.2" height="216.0" fill="none" stroke="#747474" stroke-width="1"/><path d="M394.30 519.5v-3.0M394.30 303.5v3.0M439.40 519.5v-3.0M439.40 303.5v3.0M485.80 519.5v-3.0M485.80 303.5v3.0M526.10 519.5v-3.0M526.10 303.5v3.0M571.10 519.5v-3.0M571.10 303.5v3.0M624.10 519.5v-3.0M624.10 303.5v3.0M668.50 519.5v-3.0M668.50 303.5v3.0M394.3 519.50h3.0M668.5 519.50h-3.0M394.3 492.50h3.0M668.5 492.50h-3.0M394.3 465.50h3.0M668.5 465.50h-3.0M394.3 438.50h3.0M668.5 438.50h-3.0M394.3 411.50h3.0M668.5 411.50h-3.0M394.3 384.50h3.0M668.5 384.50h-3.0M394.3 357.50h3.0M668.5 357.50h-3.0M394.3 330.50h3.0M668.5 330.50h-3.0M394.3 303.50h3.0M668.5 303.50h-3.0" stroke="#747474" stroke-width="1" fill="none"/>
<text x="391.1" y="525.4" text-anchor="end">0</text><text x="391.1" y="498.4" text-anchor="end">2</text><text x="391.1" y="471.4" text-anchor="end">4</text><text x="391.1" y="444.4" text-anchor="end">6</text><text x="391.1" y="417.4" text-anchor="end">8</text><text x="391.1" y="390.4" text-anchor="end">10</text><text x="391.1" y="363.4" text-anchor="end">12</text><text x="391.1" y="336.4" text-anchor="end">14</text><text x="391.1" y="309.4" text-anchor="end">16</text>
<text x="394.3" y="537.3" text-anchor="middle">A<tspan class="sub" dy="3.5">HCR</tspan></text><text x="439.4" y="537.3" text-anchor="middle">A<tspan class="sub" dy="3.5">mLL</tspan></text><text x="485.8" y="537.3" text-anchor="middle">A<tspan class="sub" dy="3.5">eLL</tspan></text><text x="526.1" y="537.3" text-anchor="middle">C</text><text x="571.1" y="537.3" text-anchor="middle">E<tspan class="sub" dy="3.5">eLL</tspan></text><text x="624.1" y="537.3" text-anchor="middle">E<tspan class="sub" dy="3.5">mLL</tspan></text><text x="668.5" y="537.3" text-anchor="middle">E<tspan class="sub" dy="3.5">HCR</tspan></text>
<text class="lab" x="527.8" y="555" text-anchor="middle">Line of action <tspan class="xb">x</tspan> in mm</text>
<line x1="549.6" y1="544.8" x2="556.4" y2="544.8" stroke="#7a7a7a" stroke-width="1"/>
<text class="lab" style="letter-spacing:-0.05px" transform="translate(365.5,419.5) rotate(-90)" text-anchor="middle">Mean velocity v<tspan class="sub" dy="3.5">m</tspan><tspan dy="-3.5"> in m/s</tspan></text>
<line x1="394.30" y1="511.54" x2="668.50" y2="510.32" stroke="#1257BB" stroke-width="1.8" stroke-dasharray="5,5"/>
<line x1="439.40" y1="505.87" x2="624.10" y2="504.92" stroke="#9FAB0A" stroke-width="1.8" stroke-dasharray="5,5"/>
<line x1="485.80" y1="501.95" x2="571.10" y2="501.55" stroke="#4890C6" stroke-width="1.8" stroke-dasharray="5,5"/>
<line x1="394.30" y1="486.83" x2="668.50" y2="482.78" stroke="#1257BB" stroke-width="1.8" stroke-dasharray="1.1,1.35"/>
<line x1="439.40" y1="463.07" x2="624.10" y2="460.50" stroke="#9FAB0A" stroke-width="1.8" stroke-dasharray="1.1,1.35"/>
<line x1="485.80" y1="448.76" x2="571.10" y2="447.95" stroke="#4890C6" stroke-width="1.8" stroke-dasharray="1.1,1.35"/>
<line x1="394.30" y1="434.45" x2="668.50" y2="425.00" stroke="#1257BB" stroke-width="1.7"/>
<line x1="439.40" y1="373.70" x2="624.10" y2="366.95" stroke="#9FAB0A" stroke-width="1.7"/>
<line x1="485.80" y1="337.52" x2="571.10" y2="334.28" stroke="#4890C6" stroke-width="1.6"/>
</g></svg></body></html>
